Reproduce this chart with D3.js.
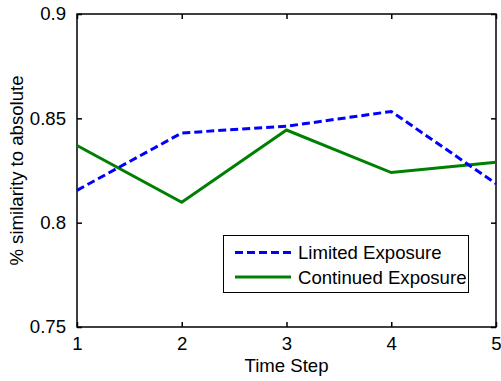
<!DOCTYPE html>
<html><head><meta charset="utf-8">
<script src="https://cdn.jsdelivr.net/npm/d3@7"></script>
<style>body{margin:0;background:#fff}svg{display:block}text{font-family:"Liberation Sans",Arial,sans-serif;fill:#000}</style>
</head><body><div id="chart"></div>
<script>
const timeSteps = [1, 2, 3, 4, 5];
const limitedExposure = [0.8155, 0.843, 0.8462, 0.8533, 0.8187];
const continuedExposure = [0.8370, 0.8098, 0.8444, 0.8240, 0.8290];
const xTicks = [1, 2, 3, 4, 5];
const yTicks = [0.75, 0.8, 0.85, 0.9];
const seriesNames = ["Limited Exposure", "Continued Exposure"];

const W = 501, H = 381;
const L = 77, R = 496, T = 14, B = 327;
const svg = d3.select("#chart").append("svg").attr("width", W).attr("height", H);
const x = d3.scaleLinear().domain([1, 5]).range([L, R]);
const y = d3.scaleLinear().domain([0.75, 0.9]).range([B, T]);
const fs = 18.6;

// box
svg.append("rect").attr("x", L).attr("y", T).attr("width", R - L).attr("height", B - T)
  .attr("fill", "#fff").attr("stroke", "#000").attr("stroke-width", 1.5);

// axes with inside ticks
const xb = svg.append("g").attr("transform", `translate(0,${B})`)
  .call(d3.axisBottom(x).tickValues(xTicks).tickFormat(d3.format("d")).tickSizeInner(-5).tickSizeOuter(0).tickPadding(10));
const xt = svg.append("g").attr("transform", `translate(0,${T})`)
  .call(d3.axisTop(x).tickValues(xTicks).tickFormat("").tickSizeInner(-5).tickSizeOuter(0));
const yl = svg.append("g").attr("transform", `translate(${L},0)`)
  .call(d3.axisLeft(y).tickValues(yTicks).tickFormat(d => String(+d.toFixed(2))).tickSizeInner(-5).tickSizeOuter(0).tickPadding(11));
const yr = svg.append("g").attr("transform", `translate(${R},0)`)
  .call(d3.axisRight(y).tickValues(yTicks).tickFormat("").tickSizeInner(-5).tickSizeOuter(0));
[xb, xt, yl, yr].forEach(g => {
  g.select(".domain").remove();
  g.selectAll("line").attr("stroke", "#000").attr("stroke-width", 1.5);
  g.selectAll("text").attr("font-size", fs).attr("font-family", '"Liberation Sans",Arial,sans-serif').attr("fill", "#000");
});

const line = d3.line().x((d, i) => x(timeSteps[i])).y(d => y(d));
svg.append("path").datum(continuedExposure).attr("d", line).attr("fill", "none")
  .attr("stroke", "#008000").attr("stroke-width", 3);
svg.append("path").datum(limitedExposure).attr("d", line).attr("fill", "none")
  .attr("stroke", "#0000ff").attr("stroke-width", 3).attr("stroke-dasharray", "8,4");

// axis labels
svg.append("text").attr("x", (L + R) / 2).attr("y", 372).attr("text-anchor", "middle")
  .attr("font-size", fs).text("Time Step");
svg.append("text").attr("transform", `translate(23,${(T + B) / 2}) rotate(-90)`)
  .attr("text-anchor", "middle").attr("font-size", fs).text("% similarity to absolute");

// legend
const lg = svg.append("g");
lg.append("rect").attr("x", 223.5).attr("y", 235.5).attr("width", 245).attr("height", 57)
  .attr("fill", "#fff").attr("stroke", "#000").attr("stroke-width", 1);
const styles = [{c: "#0000ff", dash: "8,4"}, {c: "#008000", dash: null}];
seriesNames.forEach((n, i) => {
  const yy = 252.5 + i * 24.5;
  const ln = lg.append("line").attr("x1", 235).attr("x2", 291).attr("y1", yy).attr("y2", yy)
    .attr("stroke", styles[i].c).attr("stroke-width", 3);
  if (styles[i].dash) ln.attr("stroke-dasharray", styles[i].dash);
  lg.append("text").attr("x", 298).attr("y", yy).attr("dy", "0.35em").attr("font-size", fs).text(n);
});
</script></body></html>
